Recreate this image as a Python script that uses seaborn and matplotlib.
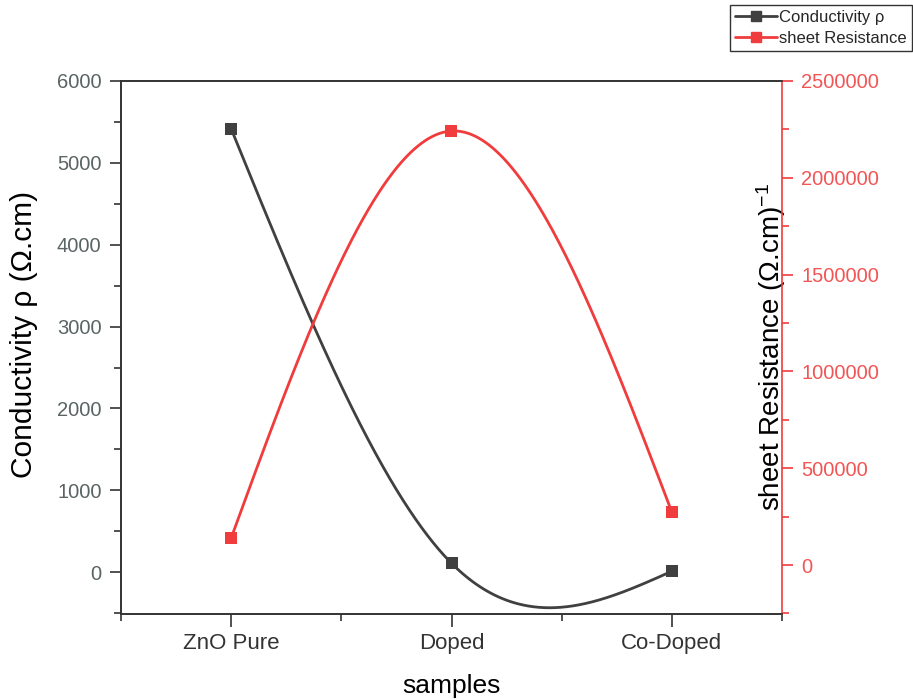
import numpy as np
import pandas as pd
import matplotlib
matplotlib.use("Agg")
import matplotlib.pyplot as plt
from matplotlib.lines import Line2D
from matplotlib.ticker import MultipleLocator, FormatStrFormatter
import seaborn as sns

samples = ["ZnO Pure", "Doped", "Co-Doped"]
conductivity = [5416, 110, 12]
sheet_resistance = [139500, 2241700, 273800]

BLACK = "#404040"
RED = "#f03c3c"


def natural_spline(y, n=200):
    """Natural cubic spline through equally spaced points at x = 1..len(y)."""
    y = np.asarray(y, dtype=float)
    k = len(y)
    A = np.zeros((k, k))
    r = np.zeros(k)
    A[0, 0] = A[-1, -1] = 1.0
    for i in range(1, k - 1):
        A[i, i - 1], A[i, i], A[i, i + 1] = 1.0, 4.0, 1.0
        r[i] = 6.0 * (y[i - 1] - 2 * y[i] + y[i + 1])
    M = np.linalg.solve(A, r)
    xs, ys = [], []
    for i in range(k - 1):
        t = np.linspace(0, 1, n)
        x0 = i + 1
        s = (M[i] * (1 - t) ** 3 / 6 + M[i + 1] * t ** 3 / 6
             + (y[i] - M[i] / 6) * (1 - t) + (y[i + 1] - M[i + 1] / 6) * t)
        xs.append(x0 + t)
        ys.append(s)
    return np.concatenate(xs), np.concatenate(ys)


sns.set_theme(style="white")
plt.rcParams["font.family"] = ["Liberation Sans", "DejaVu Sans"]
plt.rcParams["mathtext.default"] = "regular"

fig = plt.figure(figsize=(9.13, 7.0), dpi=100)
ax = fig.add_axes([121 / 913, 1 - 614 / 700, 661 / 913, 533 / 700])
ax2 = ax.twinx()

pos = np.arange(1, len(samples) + 1)
pts = pd.DataFrame({"x": pos, "cond": conductivity, "sheet": sheet_resistance})

cx, cy = natural_spline(conductivity)
sx, sy = natural_spline(sheet_resistance)
curve_c = pd.DataFrame({"x": cx, "y": cy})
curve_s = pd.DataFrame({"x": sx, "y": sy})

sns.lineplot(data=curve_c, x="x", y="y", ax=ax, color=BLACK, lw=2, sort=False)
sns.scatterplot(data=pts, x="x", y="cond", ax=ax, color=BLACK, marker="s",
                s=70, edgecolor=BLACK, linewidth=0, zorder=3)
sns.lineplot(data=curve_s, x="x", y="y", ax=ax2, color=RED, lw=2, sort=False)
sns.scatterplot(data=pts, x="x", y="sheet", ax=ax2, color=RED, marker="s",
                s=70, edgecolor=RED, linewidth=0, zorder=3)

ax.set_xlim(0.5, 3.5)
ax.set_ylim(-510, 6000)
ax2.set_ylim(-253000, 2500000)

ax.set_xticks(pos)
ax.set_xticklabels(samples)
ax.set_xticks([0.5, 1.5, 2.5, 3.5], minor=True)
ax.yaxis.set_major_locator(MultipleLocator(1000))
ax.yaxis.set_minor_locator(MultipleLocator(500))
ax2.yaxis.set_major_locator(MultipleLocator(500000))
ax2.yaxis.set_minor_locator(MultipleLocator(250000))
ax2.yaxis.set_major_formatter(FormatStrFormatter("%d"))

ax.tick_params(axis="x", which="major", direction="out", length=9, width=1.2,
               colors="#333333", labelsize=16, pad=5, bottom=True)
ax.tick_params(axis="x", which="minor", direction="out", length=5, width=1.2,
               colors="#333333", bottom=True)
ax.tick_params(axis="y", which="major", direction="out", length=8, width=1.2,
               color="#333333", labelcolor="#5a6464", labelsize=14.5, pad=6, left=True)
ax.tick_params(axis="y", which="minor", direction="out", length=5, width=1.2,
               color="#333333", left=True)
ax2.tick_params(axis="y", which="major", direction="out", length=8, width=1.2,
                color=RED, labelcolor="#f25555", labelsize=14.5, pad=6, right=True)
ax2.tick_params(axis="y", which="minor", direction="out", length=5, width=1.2,
                color=RED, right=True)

for a in (ax, ax2):
    for side in ("left", "bottom", "top", "right"):
        a.spines[side].set_linewidth(1.2)
        a.spines[side].set_color("#333333")
ax2.spines["right"].set_color(RED)
ax.spines["right"].set_visible(False)

ax.set_xlabel("samples", fontsize=19, color="black", labelpad=14)
ax.set_ylabel("Conductivity ρ (Ω.cm)", fontsize=21.5, color="black")
ax.yaxis.set_label_coords(-0.125, 0.525)
ax2.set_ylabel("sheet Resistance (Ω.cm)$^{-1}$", fontsize=20, color="black",
               rotation=90)
ax2.yaxis.set_label_coords(0.958, 0.5)

handles = [
    Line2D([], [], color=BLACK, lw=2, marker="s", markersize=7),
    Line2D([], [], color=RED, lw=2, marker="s", markersize=7),
]
leg = fig.legend(handles, ["Conductivity ρ", "sheet Resistance"],
                 loc="upper left", bbox_to_anchor=(730 / 913, 1 - 5 / 700),
                 frameon=True, fancybox=False, fontsize=12, handlelength=2.5,
                 handletextpad=0.15, borderpad=0.3, labelspacing=0.35,
                 borderaxespad=0)
leg.get_frame().set_edgecolor("black")
leg.get_frame().set_linewidth(1.0)

fig.savefig("out.png", dpi=100)
